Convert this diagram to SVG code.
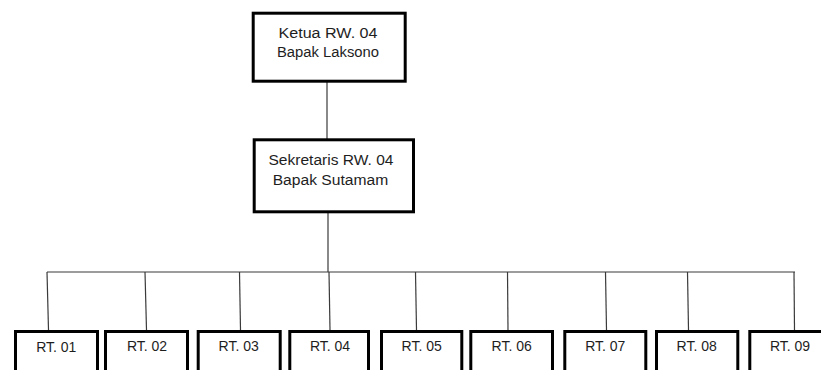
<svg xmlns="http://www.w3.org/2000/svg" width="821" height="370" viewBox="0 0 821 370">
<style>
.box{fill:#fff;stroke:#000;stroke-width:3}
.ln{stroke:#3a3a3a;stroke-width:1.2;fill:none}
text{font-family:"Liberation Sans",Arial,sans-serif;font-size:14px;fill:#1e1e1e;text-anchor:middle}
</style>
<rect width="821" height="370" fill="#fff"/>
<g id="connectors">
<line class="ln" x1="327" y1="82" x2="327" y2="139"/>
<line class="ln" x1="328" y1="212" x2="328" y2="272"/>
<line class="ln" x1="47" y1="272" x2="795" y2="272"/>
<line class="ln" x1="47" y1="272" x2="48.5" y2="330"/>
<line class="ln" x1="145" y1="272" x2="146.5" y2="330"/>
<line class="ln" x1="239.5" y1="272" x2="240.5" y2="330"/>
<line class="ln" x1="329" y1="272" x2="330" y2="330"/>
<line class="ln" x1="415.5" y1="272" x2="416.5" y2="330"/>
<line class="ln" x1="507.5" y1="272" x2="508" y2="330"/>
<line class="ln" x1="605.5" y1="272" x2="606.5" y2="330"/>
<line class="ln" x1="687.5" y1="272" x2="688.5" y2="330"/>
<line class="ln" x1="794" y1="272" x2="794.5" y2="330"/>
</g>
<g id="ketua">
<rect class="box" x="253.2" y="13.2" width="152" height="68"/>
<text x="328" y="37.7" textLength="99" lengthAdjust="spacingAndGlyphs">Ketua RW. 04</text>
<text x="328" y="56.7" textLength="102" lengthAdjust="spacingAndGlyphs">Bapak Laksono</text>
</g>
<g id="sekretaris">
<rect class="box" x="254.2" y="139.8" width="159.3" height="72"/>
<text x="331" y="165" textLength="125" lengthAdjust="spacingAndGlyphs">Sekretaris RW. 04</text>
<text x="330.5" y="185" textLength="115.6" lengthAdjust="spacingAndGlyphs">Bapak Sutamam</text>
</g>
<g id="rt01"><rect class="box" x="15.5" y="331.5" width="82" height="60"/><text x="56.3" y="352">RT. 01</text></g>
<g id="rt02"><rect class="box" x="105.5" y="331.5" width="82" height="60"/><text x="147" y="351">RT. 02</text></g>
<g id="rt03"><rect class="box" x="198.2" y="331.5" width="82" height="60"/><text x="238.7" y="351">RT. 03</text></g>
<g id="rt04"><rect class="box" x="289.8" y="331.5" width="78.7" height="60"/><text x="330" y="350.5">RT. 04</text></g>
<g id="rt05"><rect class="box" x="381.5" y="331.5" width="80.3" height="60"/><text x="421.7" y="350.5">RT. 05</text></g>
<g id="rt06"><rect class="box" x="470.8" y="331.5" width="81.7" height="60"/><text x="511.7" y="350.5">RT. 06</text></g>
<g id="rt07"><rect class="box" x="564.8" y="331.5" width="81" height="60"/><text x="605.3" y="350.5">RT. 07</text></g>
<g id="rt08"><rect class="box" x="656.5" y="331.5" width="81.3" height="60"/><text x="696.7" y="350.5">RT. 08</text></g>
<g id="rt09"><rect class="box" x="749.8" y="331.5" width="81" height="60"/><text x="790" y="350.5">RT. 09</text></g>
</svg>
